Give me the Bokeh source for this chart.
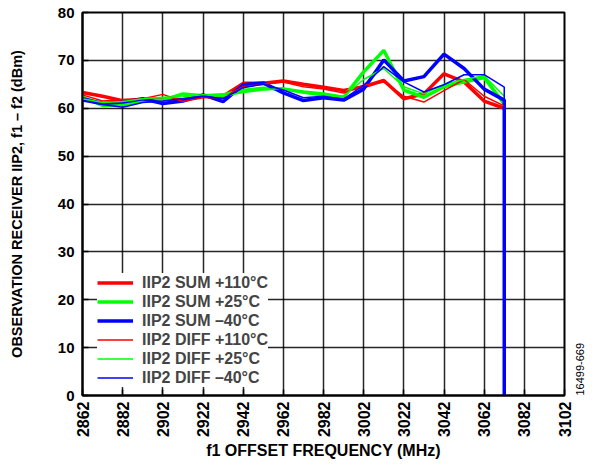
import math
from bokeh.plotting import figure
from bokeh.models import Range1d, FixedTicker, Legend, LegendItem, LinearAxis
from bokeh.embed import file_html
from bokeh.resources import INLINE

freqs = [2862, 2872, 2882, 2892, 2902, 2912, 2922, 2932, 2942, 2952, 2962,
         2972, 2982, 2992, 3002, 3012, 3022, 3032, 3042, 3052, 3062, 3072]
drop_freq = 3072
drop_value = 0

sum_110 = [63.3, 62.5, 61.6, 61.8, 62.0, 61.8, 62.5, 62.5, 65.2, 65.2, 65.7,
           65.0, 64.4, 63.7, 64.5, 65.8, 62.0, 63.0, 67.2, 65.5, 61.5, 60.0]
sum_25 = [62.3, 60.6, 60.8, 61.5, 61.7, 63.0, 62.6, 62.8, 63.7, 64.2, 64.0,
          63.4, 63.0, 62.3, 67.6, 72.1, 63.8, 62.3, 64.5, 65.5, 66.4, 60.9]
sum_m40 = [62.0, 61.0, 61.3, 62.0, 61.0, 61.5, 62.8, 61.4, 64.9, 65.3, 63.2,
           61.6, 62.2, 61.7, 64.0, 70.1, 65.7, 66.6, 71.3, 68.3, 64.0, 61.7]
diff_110 = [62.8, 61.5, 61.8, 62.0, 62.9, 61.4, 62.2, 62.2, 64.5, 65.0, 65.5,
            64.5, 64.0, 63.2, 64.8, 65.5, 62.5, 61.3, 63.7, 66.0, 62.5, 60.5]
diff_25 = [62.0, 61.2, 61.4, 62.0, 62.3, 62.4, 62.8, 62.5, 63.3, 63.8, 64.2,
           63.2, 62.5, 62.5, 66.0, 68.3, 64.5, 63.0, 65.0, 66.0, 66.8, 62.5]
diff_m40 = [61.5, 60.8, 60.2, 61.2, 61.5, 62.0, 62.5, 62.0, 64.3, 65.0, 63.8,
            62.2, 62.5, 61.9, 64.8, 68.7, 65.5, 63.4, 64.9, 67.0, 67.0, 64.4]

x_ticks = [2862, 2882, 2902, 2922, 2942, 2962, 2982, 3002, 3022, 3042, 3062, 3082, 3102]
y_ticks = [0, 10, 20, 30, 40, 50, 60, 70, 80]

labels = ["IIP2 SUM +110°C", "IIP2 SUM +25°C", "IIP2 SUM –40°C",
          "IIP2 DIFF +110°C", "IIP2 DIFF +25°C", "IIP2 DIFF –40°C"]
figure_id = "16499-669"

FONT = "Liberation Sans"

p = figure(width=590, height=463,
           x_range=Range1d(2862, 3102), y_range=Range1d(0, 80),
           output_backend="svg", toolbar_location=None,
           min_border_left=82, min_border_right=26,
           min_border_top=12, min_border_bottom=68)

p.outline_line_color = "black"
p.outline_line_width = 2
p.background_fill_color = "white"

for ax in (p.xaxis[0], p.yaxis[0]):
    ax.axis_line_color = "black"
    ax.axis_line_width = 2
    ax.major_tick_in = 6
    ax.major_tick_out = 0
    ax.major_tick_line_color = "black"
    ax.major_tick_line_width = 1.5
    ax.minor_tick_line_color = None
    ax.major_label_text_font = FONT
    ax.major_label_text_font_style = "bold"
    ax.major_label_text_color = "black"
    ax.axis_label_text_font = FONT
    ax.axis_label_text_font_style = "bold"
    ax.axis_label_text_color = "black"

p.xaxis[0].major_label_text_font_size = "16px"
p.yaxis[0].major_label_text_font_size = "15px"
p.xaxis[0].axis_label_text_font_size = "16px"
p.yaxis[0].axis_label_text_font_size = "14.5px"

p.xaxis[0].ticker = FixedTicker(ticks=x_ticks, minor_ticks=[])
p.yaxis[0].ticker = FixedTicker(ticks=y_ticks, minor_ticks=[])
p.xaxis[0].major_label_orientation = math.pi / 2
p.xaxis[0].axis_label = "f1 OFFSET FREQUENCY (MHz)"
p.yaxis[0].axis_label = "OBSERVATION RECEIVER IIP2, f1 – f2 (dBm)"
p.xaxis[0].major_label_standoff = 6
p.yaxis[0].major_label_standoff = 8
p.xaxis[0].axis_label_standoff = 2
p.yaxis[0].axis_label_standoff = 30

for g in (p.xgrid[0], p.ygrid[0]):
    g.grid_line_color = "black"
    g.grid_line_width = 1.5
    g.grid_line_alpha = 0.85

series = [
    (freqs, sum_110, "#ff0000", 3.5),
    (freqs, sum_25, "#00ff00", 3.5),
    (freqs + [drop_freq], sum_m40 + [drop_value], "#0000ff", 3.5),
    (freqs, diff_110, "#ff0000", 1.5),
    (freqs, diff_25, "#00ff00", 1.5),
    (freqs + [drop_freq], diff_m40 + [drop_value], "#0000ff", 1.5),
]

items = []
for (xs, ys, color, w), lab in zip(series, labels):
    r = p.line(xs, ys, line_color=color, line_width=w)
    items.append(LegendItem(label=lab, renderers=[r]))

legend = Legend(items=items, location=(15, 8))
legend.background_fill_color = "white"
legend.background_fill_alpha = 1.0
legend.border_line_color = None
legend.label_text_font = FONT
legend.label_text_font_style = "bold"
legend.label_text_font_size = "16px"
legend.glyph_width = 36
legend.glyph_height = 19
legend.label_height = 19
legend.label_standoff = 9
legend.spacing = 0
legend.padding = 6
legend.margin = 0
p.add_layout(legend)

# figure id along the right edge
p.extra_y_ranges = {"note": Range1d(0, 1)}
note_axis = LinearAxis(y_range_name="note",
                       ticker=FixedTicker(ticks=[0], minor_ticks=[]),
                       major_label_overrides={0: figure_id},
                       major_label_orientation=math.pi / 2,
                       axis_line_color=None, major_tick_line_color=None,
                       minor_tick_line_color=None,
                       major_label_standoff=9,
                       major_label_text_font=FONT,
                       major_label_text_font_size="11px",
                       major_label_text_align="right",
                       major_label_text_color="black")
p.add_layout(note_axis, "right")

open("out.html", "w").write(file_html(p, INLINE))
